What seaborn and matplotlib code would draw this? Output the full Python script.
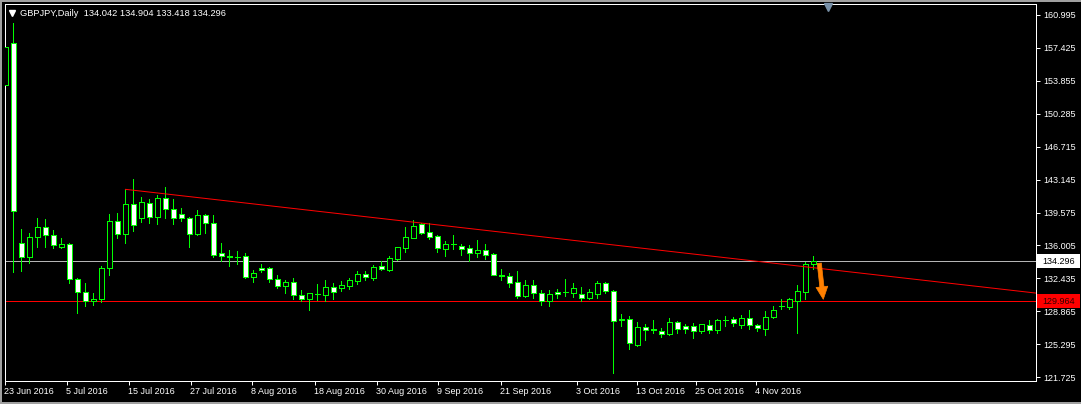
import numpy as np
import pandas as pd
import matplotlib
matplotlib.use("Agg")
import matplotlib.pyplot as plt
import matplotlib.transforms as mtransforms
from matplotlib.lines import Line2D
from matplotlib.patches import Rectangle
import seaborn as sns

# ---------------- data (GBPJPY daily) ----------------
opens = [153.39, 157.90, 136.25, 134.73, 136.96, 137.98, 137.18, 135.81, 136.14, 132.35,
         130.94, 129.96, 130.18, 133.54, 138.63, 137.22, 140.47, 138.95, 140.58, 139.06,
         141.12, 139.93, 139.39, 138.95, 137.29, 139.28, 138.41, 135.16, 134.82, 134.80,
         134.84, 132.56, 133.60, 133.54, 132.35, 131.65, 132.02, 130.61, 130.25, 130.76,
         130.68, 131.48, 131.44, 131.65, 132.20, 132.92, 132.52, 133.79, 133.35, 134.55,
         135.77, 136.85, 138.37, 137.44, 137.00, 135.66, 136.16, 135.95, 135.70, 135.23,
         135.52, 135.09, 132.76, 132.67, 132.02, 130.57, 131.73, 130.83, 130.03, 130.97,
         130.96, 130.90, 130.72, 130.35, 130.79, 131.91, 131.05, 128.00, 128.02, 125.23,
         127.15, 126.91, 126.72, 126.39, 127.69, 127.26, 127.26, 126.78, 127.37, 126.89,
         127.96, 128.02, 127.37, 128.12, 127.37, 126.99, 128.23, 129.44, 129.38, 130.03,
         131.00, 134.042]
highs = [158.34, 160.14, 137.76, 137.39, 138.95, 138.84, 137.69, 136.79, 136.25, 132.45,
         131.91, 130.83, 133.79, 139.42, 139.49, 142.09, 143.18, 141.23, 141.01, 141.48,
         142.31, 141.01, 140.04, 139.06, 139.85, 139.39, 139.28, 136.25, 135.52, 135.41,
         135.16, 133.32, 134.00, 133.65, 132.81, 132.27, 132.45, 131.19, 130.90, 131.84,
         132.27, 131.91, 132.13, 132.45, 133.28, 133.28, 133.90, 134.30, 134.87, 135.88,
         137.98, 138.77, 138.48, 138.41, 137.11, 136.46, 137.14, 136.17, 136.06, 136.60,
         136.14, 135.16, 133.43, 133.06, 133.25, 132.27, 132.27, 131.19, 131.19, 131.33,
         132.38, 131.91, 131.48, 131.26, 132.16, 132.09, 131.19, 128.56, 128.37, 127.69,
         127.51, 127.94, 127.04, 128.12, 127.86, 127.54, 127.58, 127.54, 127.94, 128.02,
         128.37, 128.23, 128.48, 129.02, 127.51, 128.91, 129.46, 130.21, 130.32, 131.73,
         134.25, 134.904]
lows = [153.30, 133.17, 133.28, 134.14, 135.81, 135.81, 135.70, 135.78, 131.98, 128.66,
        129.49, 129.60, 129.93, 132.85, 136.85, 136.31, 137.61, 138.58, 138.41, 138.30,
        139.00, 138.37, 138.69, 135.88, 137.14, 137.39, 134.79, 134.36, 133.82, 134.04,
        132.45, 132.09, 133.10, 132.09, 131.44, 130.90, 130.25, 130.03, 129.02, 130.10,
        130.03, 130.21, 131.08, 131.30, 131.84, 132.27, 132.27, 133.40, 133.25, 134.44,
        135.34, 136.80, 137.25, 136.71, 135.34, 134.87, 135.63, 134.98, 134.33, 134.73,
        134.55, 132.78, 132.27, 131.55, 130.35, 130.46, 130.35, 129.56, 129.46, 130.32,
        130.57, 130.40, 129.99, 130.18, 130.32, 130.90, 122.23, 127.32, 124.77, 125.16,
        125.77, 126.50, 126.13, 126.28, 126.50, 126.50, 126.02, 126.56, 126.50, 126.56,
        127.32, 127.32, 127.04, 126.96, 126.72, 126.35, 128.19, 129.10, 129.13, 126.56,
        130.18, 133.418]
closes = [157.50, 139.75, 134.73, 136.96, 137.98, 137.18, 136.03, 136.14, 132.35, 130.94,
          129.96, 130.18, 133.54, 138.63, 137.22, 140.47, 138.19, 140.69, 139.06, 141.12,
          139.93, 138.95, 138.95, 137.29, 139.28, 138.41, 134.95, 134.84, 134.76, 134.76,
          132.56, 133.00, 133.32, 132.35, 131.65, 132.02, 130.68, 130.25, 130.83, 130.72,
          131.48, 130.94, 131.70, 132.27, 132.89, 132.56, 133.65, 133.43, 134.62, 135.81,
          136.90, 138.12, 137.39, 136.96, 135.70, 136.14, 136.12, 135.66, 135.23, 135.52,
          135.01, 132.85, 132.72, 131.98, 130.57, 131.70, 130.83, 130.03, 130.72, 130.72,
          130.92, 131.37, 130.35, 130.97, 131.91, 131.08, 127.83, 127.98, 125.42, 127.15,
          126.89, 126.87, 126.46, 127.69, 126.99, 126.99, 126.78, 127.47, 126.89, 127.91,
          127.92, 127.58, 128.12, 127.37, 127.04, 128.23, 129.02, 129.42, 130.21, 131.05,
          133.97, 134.296]

date_labels = ["23 Jun 2016", "5 Jul 2016", "15 Jul 2016", "27 Jul 2016", "8 Aug 2016",
               "18 Aug 2016", "30 Aug 2016", "9 Sep 2016", "21 Sep 2016", "3 Oct 2016",
               "13 Oct 2016", "25 Oct 2016", "4 Nov 2016"]
date_positions = [0.0, 7.68, 15.46, 23.18, 30.88, 38.71, 46.43, 54.13, 61.93,
                  71.5, 78.93, 86.34, 93.84]
price_ticks = [160.995, 157.425, 153.855, 150.285, 146.715, 143.145, 139.575,
               136.005, 132.435, 128.865, 125.295, 121.725]

bid_price = 134.296
level_price = 129.964
trend_x = [15, 101]
trend_y = [142.09, 133.60]
arrow_x = [101.75, 102.25]
arrow_y = [134.08, 130.18]
title_text = "GBPJPY,Daily  134.042 134.904 133.418 134.296"

# ---------------- style ----------------
sns.set_theme(style="dark", rc={
    "figure.facecolor": "black",
    "axes.facecolor": "black",
    "axes.edgecolor": "white",
    "savefig.facecolor": "black",
})
plt.rcParams["font.family"] = ["Liberation Sans", "DejaVu Sans"]

LIME = "#00FF00"
PX = 0.72  # one pixel in points at dpi 100

W, H = 1081, 404
fig = plt.figure(figsize=(W / 100, H / 100), dpi=100)
ax_l, ax_r, ax_t, ax_b = 4.7, 1036.0, 4.0, 381.0
ax = fig.add_axes([ax_l / W, (H - ax_b) / H, (ax_r - ax_l) / W, (ax_b - ax_t) / H])
ax.set_facecolor("black")

df = pd.DataFrame({"open": opens, "high": highs, "low": lows, "close": closes})
df["i"] = np.arange(len(df))
df["bottom"] = df[["open", "close"]].min(axis=1)
df["height"] = (df["close"] - df["open"]).abs().clip(lower=0.04)
df["fill"] = np.where(df["close"] < df["open"], "white", "black")

# horizontal lines
ax.axhline(bid_price, color="#B4B4B4", lw=PX, zorder=1)
ax.axhline(level_price, color="#FF0000", lw=PX, zorder=1)

# wicks and bodies
ax.vlines(df["i"], df["low"], df["high"], color=LIME, lw=PX, zorder=2, antialiased=False)
ax.bar(df["i"], df["height"], bottom=df["bottom"], width=0.6, color=df["fill"],
       edgecolor=LIME, linewidth=PX, zorder=3, antialiased=False)

# limits
xlim = (-0.075, 128.84)
ylim = (121.33, 162.16)
ax.set_xlim(*xlim)
ax.set_ylim(*ylim)

# trend line (ray to the right edge)
slope = (trend_y[1] - trend_y[0]) / (trend_x[1] - trend_x[0])
tx = [trend_x[0], xlim[1]]
ty = [trend_y[0], trend_y[0] + slope * (xlim[1] - trend_x[0])]
sns.lineplot(x=tx, y=ty, color="#FF0000", lw=PX, ax=ax, zorder=4, legend=False)

# arrow
ax.annotate("", xy=(arrow_x[1], arrow_y[1]), xytext=(arrow_x[0], arrow_y[0]),
            arrowprops=dict(arrowstyle="simple,head_width=0.85,head_length=0.9,tail_width=0.3",
                            fc="#FF8000", ec="#FF8000", lw=0.5, mutation_scale=10,
                            shrinkA=0, shrinkB=0), zorder=6)

# spines
for s in ax.spines.values():
    s.set_visible(True)
    s.set_color("white")
    s.set_linewidth(PX)

# ticks
ax.yaxis.tick_right()
ax.set_yticks(price_ticks)
ax.set_yticklabels([f"{v:.3f}" for v in price_ticks])
ax.set_xticks(date_positions)
ax.set_xticklabels(date_labels, ha="left")
ax.tick_params(axis="y", which="both", direction="out", length=3, width=PX,
               colors="white", labelsize=6.5, pad=2, right=True, left=False)
ax.tick_params(axis="x", which="both", direction="out", length=3, width=PX,
               colors="white", labelsize=6.5, pad=1.5, bottom=True)
for lbl in ax.get_xticklabels():
    lbl.set_transform(lbl.get_transform() + mtransforms.ScaledTranslation(-1 / 100, 0, fig.dpi_scale_trans))
ax.grid(False)
ax.set_xlabel("")
ax.set_ylabel("")

# price boxes on the right scale
blend = mtransforms.blended_transform_factory(fig.transFigure, ax.transData)
box_h = 1.5
for val, bg, fg in [(bid_price, "white", "black"), (level_price, "#FF0000", "#300000")]:
    ax.add_patch(Rectangle((1037 / W, val - box_h / 2), 43 / W, box_h, transform=blend,
                           facecolor=bg, edgecolor="none", clip_on=False, zorder=7))
    ax.text(1042 / W, val, f"{val:.3f}", transform=blend, va="center", ha="left",
            color=fg, fontsize=6.5, clip_on=False, zorder=8)

# title with small triangle
fig.text(20 / W, 1 - 13 / H, title_text, color="white", fontsize=6.7, va="center", ha="left")
fig.add_artist(Line2D([11.5 / W], [1 - 13 / H], marker="v", markersize=4.2, color="white",
                      linestyle="none", transform=fig.transFigure))

# chart shift marker at top
top_blend = mtransforms.blended_transform_factory(ax.transData, ax.transAxes)
ax.plot([102.9], [0.9925], marker="v", markersize=6, color="#7890A8", transform=top_blend,
        clip_on=False, zorder=9)

# outer window border
for xs, ys in [([0, 1], [1 - 1 / H, 1 - 1 / H]), ([1 / W, 1 / W], [0, 1]), ([0, 1], [1 / H, 1 / H])]:
    fig.add_artist(Line2D(xs, ys, color="#A0A0A0", lw=2 * PX, transform=fig.transFigure))

fig.savefig("out.png", dpi=100, facecolor="black")
